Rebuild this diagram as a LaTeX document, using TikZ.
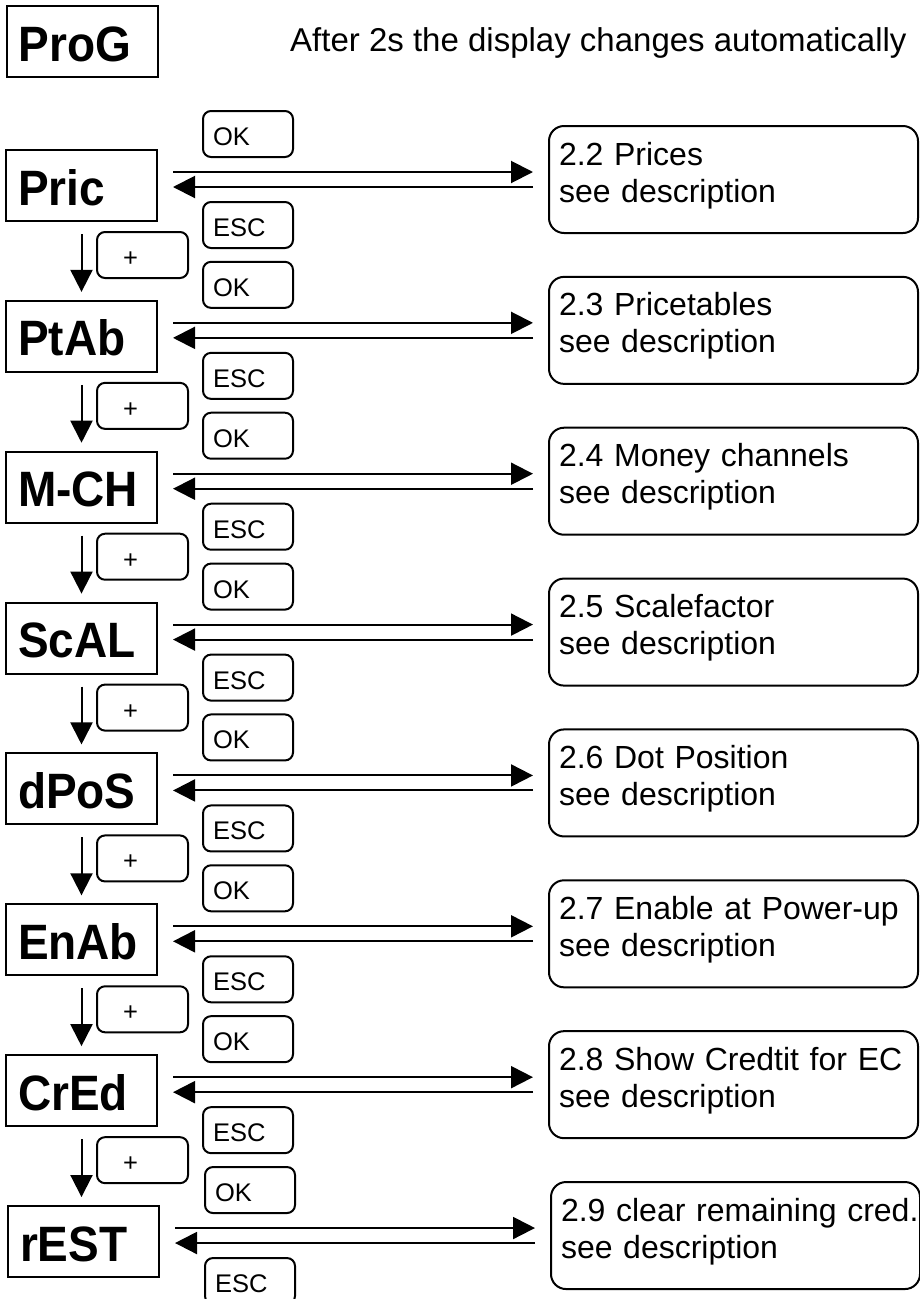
\documentclass[tikz,border=0pt]{standalone}
\usepackage{fontspec}
\setmainfont{Liberation Sans}
\usetikzlibrary{arrows.meta,calc}
\tikzset{
  disp/.style={draw, line width=2pt, minimum width=151pt, minimum height=71pt,
    inner xsep=12pt, inner ysep=0pt, text width=127pt, align=left,
    text height=39pt, text depth=0pt, font=\fontsize{46}{52}\selectfont\bfseries},
  btn/.style={draw, line width=2pt, rounded corners=8pt, minimum width=90pt,
    minimum height=46pt, inner xsep=10pt, inner ysep=0pt, text width=70pt, align=left,
    text height=23pt, text depth=0pt, font=\fontsize{25.5}{28}\selectfont},
  desc/.style={draw, line width=2pt, rounded corners=15pt, minimum width=369pt,
    minimum height=107pt, inner xsep=10pt, inner ysep=0pt, text width=349pt, align=left,
    text height=23pt, text depth=52pt, font=\fontsize{32}{37}\selectfont},
  conn/.style={line width=2pt, -{Triangle[length=22pt,width=22pt]}},
}
\begin{document}
\begin{tikzpicture}[x=1pt,y=-1pt]
\clip (0,0) rectangle (920,1299);
\fill[white] (0,0) rectangle (920,1299);
\node[disp] (prog) at (82,41.5) {\scalebox{1}[1.08]{ProG}};
\node[anchor=base west, inner sep=0pt, font=\fontsize{33}{38}\selectfont] (title) at (290,51) {After 2s the display changes automatically};
\foreach \i/\lab/\txt in {1/Pric/{2.2 Prices},2/PtAb/{2.3 Pricetables},3/M-CH/{2.4 Money channels},4/ScAL/{2.5 Scalefactor},5/dPoS/{2.6 Dot Position},6/EnAb/{2.7 Enable at Power-up},7/CrEd/{2.8 Show Credtit for EC},8/rEST/{2.9 clear remaining cred.}}{
  \pgfmathsetmacro\yk{150.86*(\i-1)}
  \pgfmathsetmacro\dx{\i==8 ? 2 : 0}
  \node[disp] (b\i) at (81.5+\dx,185.5+\yk) {\scalebox{1}[1.08]{\lab}};
  \node[btn] (ok\i) at (248+\dx,134+\yk) {OK};
  \node[btn] (esc\i) at (248+\dx,225+\yk) {ESC};
  \node[desc] (d\i) at (733.5+\dx,179.5+\yk) {\mbox{\txt}\\see description};
  \draw[conn] ($(b\i.east |- d\i.west)+(15,-7.5)$) -- ($(d\i.west)+(-15,-7.5)$);
  \draw[conn] ($(d\i.west)+(-15,7.5)$) -- ($(b\i.east |- d\i.west)+(15,7.5)$);
}
\foreach \i [evaluate=\i as \j using int(\i+1)] in {1,...,7}{
  \pgfmathsetmacro\yk{150.86*(\i-1)}
  \node[btn, minimum width=91pt, text width=71pt] (pl\i) at (142.5,255+\yk) {\hspace*{16pt}+};
  \draw[conn] ($(b\i.south)+(0,12)$) -- ($(b\i.south |- b\j.north)+(0,-8)$);
}
\end{tikzpicture}
\end{document}
